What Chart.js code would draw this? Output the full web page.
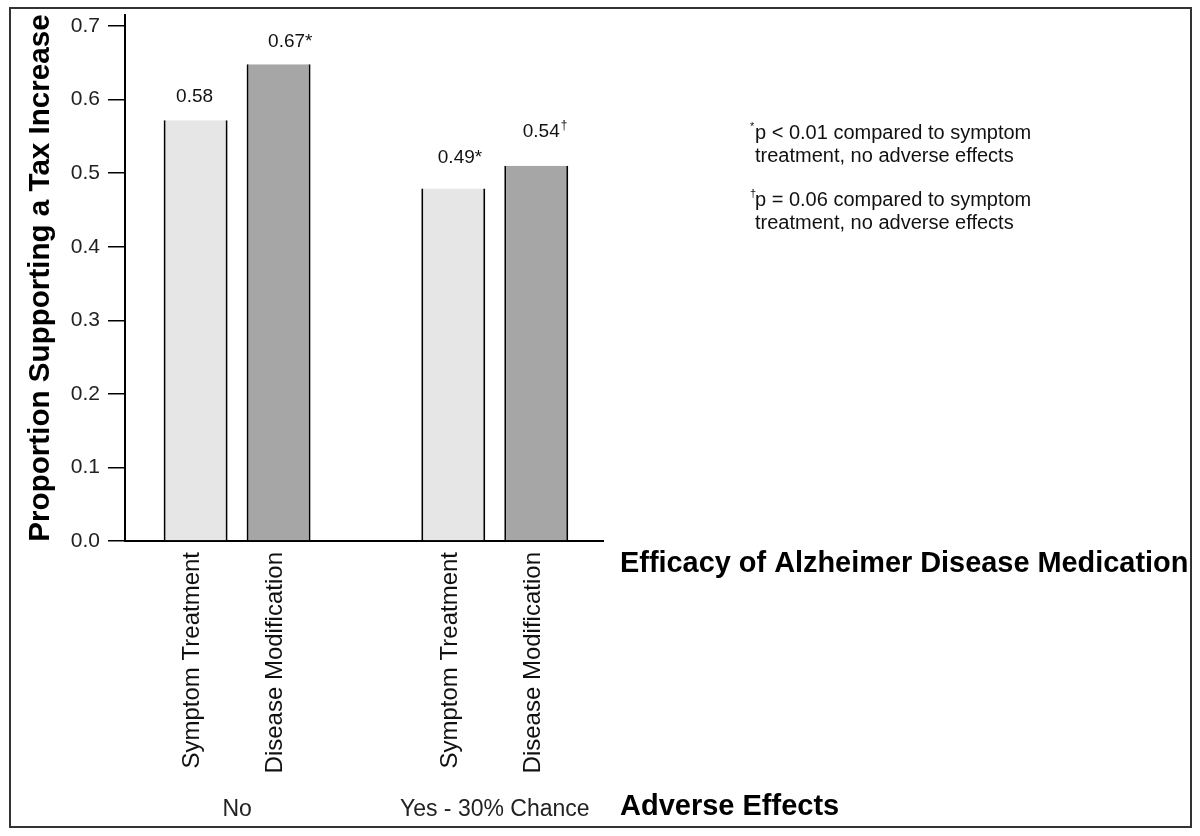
<!DOCTYPE html>
<html>
<head>
<meta charset="utf-8">
<script src="https://cdn.jsdelivr.net/npm/chart.js@4.4.0/dist/chart.umd.min.js"></script>
<style>
html,body{margin:0;padding:0;background:#fff;}
#wrap{width:1200px;height:836px;position:relative;}
</style>
</head>
<body>
<div id="wrap"><canvas id="c" width="1200" height="836"></canvas></div>
<script>
// ---- data ----
const groups = ['No', 'Yes - 30% Chance'];
const treatments = ['Symptom Treatment', 'Disease Modification'];
const symptomValues = [0.572, 0.479];
const diseaseValues = [0.648, 0.510];
const symptomLabels = ['0.58', '0.49'];
const symptomMarks = ['', '*'];
const diseaseLabels = ['0.67', '0.54'];
const diseaseMarks = ['*', '\u2020'];
const yTickValues = [0.0, 0.1, 0.2, 0.3, 0.4, 0.5, 0.6, 0.7];
const yTitle = 'Proportion Supporting a Tax Increase';
const xTitle = 'Efficacy of Alzheimer Disease Medication';
const groupTitle = 'Adverse Effects';
const noteMarks = ['*', '\u2020'];
const noteLines = [
  ['p < 0.01 compared to symptom', 'treatment, no adverse effects'],
  ['p = 0.06 compared to symptom', 'treatment, no adverse effects']
];

const FONT = '"Liberation Sans", Arial, Helvetica, sans-serif';

const decor = {
  id: 'decor',
  beforeDraw(chart) {
    const ctx = chart.ctx;
    ctx.save();
    ctx.fillStyle = '#ffffff';
    ctx.fillRect(0, 0, chart.width, chart.height);
    ctx.restore();
  },
  afterDraw(chart) {
    const ctx = chart.ctx;
    ctx.save();
    // outer frame
    ctx.strokeStyle = '#333';
    ctx.lineWidth = 2;
    ctx.strokeRect(10, 8, 1181, 819);

    const valueTexts = [symptomLabels, diseaseLabels];
    const marks = [symptomMarks, diseaseMarks];
    const gaps = [[18, 26], [17, 29]];
    const shifts = [[-1, 3], [8, 5]];
    chart.data.datasets.forEach((ds, d) => {
      const meta = chart.getDatasetMeta(d);
      meta.data.forEach((bar, i) => {
        const txt = valueTexts[d][i];
        ctx.font = '19px ' + FONT;
        ctx.fillStyle = '#111';
        ctx.textAlign = 'center';
        ctx.textBaseline = 'alphabetic';
        const cx = bar.x + shifts[d][i];
        const by = bar.y - gaps[d][i];
        ctx.fillText(txt, cx, by);
        const w = ctx.measureText(txt).width;
        const m = marks[d][i];
        if (m) {
          ctx.textAlign = 'left';
          if (m === '*') {
            ctx.fillText(m, cx + w / 2, by);
          } else {
            ctx.font = '12px ' + FONT;
            ctx.fillText(m, cx + w / 2 + 1, by - 8);
          }
        }
        // rotated treatment label under each bar
        ctx.save();
        ctx.translate(bar.x - 3, 552);
        ctx.rotate(-Math.PI / 2);
        ctx.font = '24px ' + FONT;
        ctx.fillStyle = '#111';
        ctx.textAlign = 'right';
        ctx.textBaseline = 'middle';
        ctx.fillText(treatments[d], 0, 0);
        ctx.restore();
      });
    });

    // axis titles on the right
    ctx.fillStyle = '#000';
    ctx.textAlign = 'left';
    ctx.textBaseline = 'alphabetic';
    ctx.font = 'bold 28.9px ' + FONT;
    ctx.fillText(xTitle, 620, 572);
    ctx.font = 'bold 29px ' + FONT;
    ctx.fillText(groupTitle, 620, 815);

    // notes
    const noteBase = [139, 206];
    noteLines.forEach((lines, k) => {
      ctx.fillStyle = '#111';
      ctx.font = '11px ' + FONT;
      ctx.fillText(noteMarks[k], 750, noteBase[k] - 9);
      ctx.font = '20px ' + FONT;
      lines.forEach((ln, j) => {
        ctx.fillText(ln, 755, noteBase[k] + j * 23);
      });
    });
    ctx.restore();
  }
};

const chart = new Chart(document.getElementById('c'), {
  type: 'bar',
  data: {
    datasets: [
      {
        label: treatments[0],
        data: groups.map((g, i) => ({ x: i, y: symptomValues[i] })),
        backgroundColor: '#e6e6e6',
        borderColor: '#000',
        borderWidth: { left: 2, right: 2, top: 0, bottom: 0 },
        borderSkipped: false,
        categoryPercentage: 0.644,
        barPercentage: 0.771
      },
      {
        label: treatments[1],
        data: groups.map((g, i) => ({ x: i, y: diseaseValues[i] })),
        backgroundColor: '#a6a6a6',
        borderColor: '#000',
        borderWidth: { left: 2, right: 2, top: 0, bottom: 0 },
        borderSkipped: false,
        categoryPercentage: 0.644,
        barPercentage: 0.771
      }
    ]
  },
  options: {
    responsive: false,
    animation: false,
    devicePixelRatio: 1,
    layout: { padding: { top: 15, right: 597, bottom: 0, left: 0 } },
    plugins: { legend: { display: false }, tooltip: { enabled: false } },
    scales: {
      x: {
        type: 'linear',
        offset: false,
        min: -0.435,
        max: 1.42,
        afterBuildTicks: (s) => { s.ticks = groups.map((g, i) => ({ value: i })); },
        afterFit: (s) => { s.height = 295; s.paddingLeft = 0; s.paddingRight = 0; },
        ticks: {
          callback: (v) => groups[v],
          font: { family: FONT, size: 23 },
          color: '#222',
          padding: 255,
          maxRotation: 0,
          minRotation: 0,
          autoSkip: false
        },
        grid: { display: false, drawTicks: false, offset: false },
        border: { display: true, color: '#000', width: 2 }
      },
      y: {
        min: 0,
        max: 0.715,
        afterBuildTicks: (s) => { s.ticks = yTickValues.map(v => ({ value: v })); },
        afterFit: (s) => { s.width = 125; s.paddingTop = 0; s.paddingBottom = 0; },
        ticks: {
          callback: (v) => Number(v).toFixed(1),
          font: { family: FONT, size: 21 },
          color: '#222',
          padding: 8
        },
        grid: { drawOnChartArea: false, drawTicks: true, tickLength: 17, color: '#000', lineWidth: 1.5 },
        border: { display: true, color: '#000', width: 2 },
        title: {
          display: true,
          text: yTitle,
          font: { family: FONT, size: 29.6, weight: 'bold' },
          color: '#000',
          padding: { top: 23, bottom: 0 }
        }
      }
    }
  },
  plugins: [decor]
});
</script>
</body>
</html>
